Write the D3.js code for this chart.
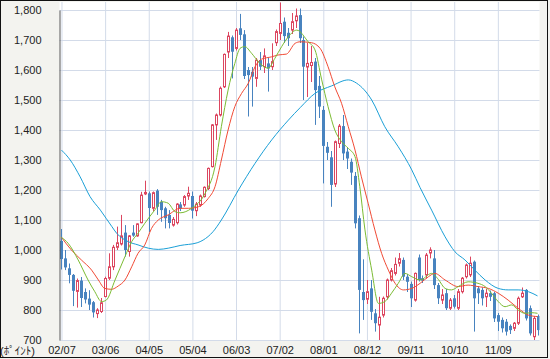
<!DOCTYPE html>
<html><head><meta charset="utf-8">
<script src="https://cdn.jsdelivr.net/npm/d3@7"></script>
<style>
body{margin:0;background:#fff}
svg{display:block}
text{font-family:Arial,"Liberation Sans","Noto Sans CJK JP",sans-serif}
</style>
</head><body>
<svg id="c" width="550" height="359"></svg>
<script>
// ---- data ----
const startYear = 2002, startMonth = 7;
const tickLabels = ["02/07","03/06","04/05","05/04","06/03","07/02","08/01","08/12","09/11","10/10","11/09"];
const yTicks = [700,800,900,1000,1100,1200,1300,1400,1500,1600,1700,1800];

const openV  = [1030,972,939,917,862,898,860,838,826,788,795,845,906,944,1009,1020,1058,995,1058,1047,1091,1187,1189,1139,1198,1160,1139,1117,1083,1091,1152,1150,1180,1180,1131,1150,1178,1205,1278,1417,1450,1544,1660,1709,1672,1739,1719,1600,1594,1572,1633,1611,1622,1611,1691,1722,1761,1724,1733,1764,1783,1700,1610,1615,1628,1547,1467,1344,1309,1220,1355,1413,1328,1294,1247,1106,860,836,872,789,750,783,844,900,922,956,967,911,887,833,975,906,917,990,972,883,833,856,806,839,806,861,911,917,961,872,867,844,856,856,783,767,761,747,739,756,844,867,806,711,780];
const highV  = [1070,1000,955,920,905,910,872,866,830,806,840,911,989,1017,1078,1117,1083,1050,1083,1089,1194,1231,1195,1195,1203,1167,1144,1133,1110,1156,1160,1183,1211,1195,1160,1185,1212,1275,1420,1455,1545,1655,1727,1715,1740,1787,1733,1610,1610,1640,1660,1672,1640,1689,1735,1825,1775,1740,1790,1805,1805,1712,1690,1680,1640,1580,1480,1360,1330,1365,1420,1450,1340,1305,1260,1115,969,900,900,803,844,845,905,940,975,990,975,920,895,925,985,915,990,1009,1000,890,870,870,840,850,870,910,955,978,965,880,875,870,865,860,790,775,770,752,760,845,875,870,815,780,785];
const lowV   = [935,933,889,813,808,810,822,800,775,773,790,842,900,933,1000,1015,978,978,1044,1044,1089,1183,1060,1130,1117,1094,1072,1072,1078,1085,1130,1144,1167,1105,1113,1144,1175,1200,1275,1367,1445,1540,1640,1572,1665,1700,1570,1445,1478,1544,1600,1590,1528,1600,1680,1700,1690,1680,1720,1740,1690,1500,1510,1560,1417,1440,1222,1300,1144,1210,1340,1300,1270,1217,1072,722,767,820,767,728,700,775,835,895,915,945,900,860,810,828,895,890,905,972,870,820,820,800,800,805,800,855,905,910,728,820,815,810,830,760,730,725,715,720,730,750,840,765,715,700,715];
const closeV = [970,942,917,864,898,840,835,818,792,800,824,905,944,1009,1024,1047,1000,1047,1048,1087,1183,1192,1140,1191,1144,1133,1106,1090,1102,1153,1138,1178,1189,1131,1153,1180,1209,1272,1417,1450,1539,1652,1713,1661,1733,1717,1580,1583,1578,1633,1611,1647,1605,1628,1728,1755,1713,1706,1761,1780,1706,1611,1622,1625,1533,1478,1347,1324,1217,1361,1413,1322,1305,1258,1089,867,833,861,794,756,776,839,900,931,952,971,911,894,839,922,900,898,983,1000,883,839,850,806,833,811,861,906,950,956,839,856,839,856,844,772,761,739,728,733,756,839,856,772,722,772,733];

// moving averages sampled at month positions (index, value)
const maShortIdx = [0,1.7,4.2,6.7,8.4,10.1,11.3,13.5,16,17.7,19.3,21,23.5,25.2,26.9,28.6,29.9,32.8,36.2,38.7,40.3,42,43.7,45,46.2,47.9,50,52.1,53.8,55.5,57.2,59.3,62.2,63.9,65.6,67.2,68.9,70.6,72.3,74,75.2,76.5,78.2,79.9,81.5,83.2,84.9,86.6,88.3,90.4,93.3,95,96.7,98.3,100,102.5,105,106.8,108.4,110.1,111.8,113.5,115.1,116.8,118.5,120];
const maShortVal = [1042,1022,967,900,861,828,833,900,978,1028,1056,1089,1133,1161,1156,1128,1124,1139,1189,1278,1411,1533,1622,1672,1678,1656,1622,1606,1639,1678,1711,1733,1694,1667,1567,1478,1400,1361,1339,1311,1211,1067,933,822,828,856,889,922,911,900,922,902,872,867,878,894,889,878,856,828,811,817,800,789,791,789];
const maMidIdx = [0,2.5,5,7.6,9.3,10.9,12.6,14.3,16,17.7,19.3,21,22.7,24.4,26.9,29.9,32,34.5,37,38.7,40.3,42,43.7,45.4,47.1,48.8,50.4,53,54.6,56.7,58.9,60.2,63,65.2,67.2,68.9,70.6,72.3,74,75.6,77.3,79,80.7,82.4,84.1,86.2,88.3,90.4,92.5,94.1,96.7,100,102.5,105,107.6,110.1,112.6,115.1,117.7,120];
const maMidVal = [1042,1000,967,933,900,872,869,880,900,944,989,1017,1072,1100,1117,1139,1139,1144,1172,1211,1300,1400,1478,1522,1556,1611,1636,1644,1650,1653,1689,1694,1691,1672,1611,1544,1489,1411,1333,1244,1156,1067,989,933,889,867,872,889,911,922,900,878,883,878,872,856,833,806,783,778];
const maLongIdx = [0,2.2,4.7,7.2,9.8,12.7,13.9,16.8,19.3,21.9,24.4,26.9,29.9,34.2,35.7,38.2,40.3,44.6,48.8,53,57.2,60.2,63.9,68.1,72.3,74.4,78.2,81.5,84.9,88.3,90.4,93.3,96.7,99.2,101.7,104.2,106.8,110.1,112.6,115.1,117.7,120];
const maLongVal = [1333,1300,1244,1178,1133,1078,1056,1028,1017,1006,1002,1006,1015,1024,1033,1061,1100,1200,1289,1367,1433,1475,1522,1547,1567,1556,1500,1411,1344,1267,1208,1133,1044,994,967,933,900,872,867,867,861,847];

// ---- chart ----
const W = 550, H = 359;
const L = 59.5, R = 539.5, T = 2, B = 340;
const svg = d3.select("#c");
const n = openV.length;
const cats = d3.range(n).map(i => {
  const m = startMonth - 1 + i, yy = startYear + Math.floor(m / 12), mm = m % 12 + 1;
  return String(yy % 100).padStart(2, "0") + "/" + String(mm).padStart(2, "0");
});

const x = d3.scaleBand().domain(cats).range([L, R]);
const xi = d3.scaleLinear().domain([-0.5, n - 0.5]).range([L, R]);
const y = d3.scaleLinear().domain([700, 1800]).range([340, 10]);

svg.append("rect").attr("width", W).attr("height", H).attr("fill", "#f3f3ef");
svg.append("rect").attr("x", L).attr("y", T).attr("width", R - L).attr("height", B - T).attr("fill", "#fff");

svg.append("defs").append("clipPath").attr("id", "clip")
  .append("rect").attr("x", L).attr("y", T).attr("width", R - L).attr("height", B - T);

// grid
const gy = svg.append("g").attr("transform", `translate(${L},0)`)
  .call(d3.axisLeft(y).tickValues(yTicks).tickSize(-(R - L)).tickFormat(""));
gy.select(".domain").remove();
gy.selectAll("line").attr("stroke", "#d3dbe9").attr("stroke-width", 1);

const tickIdx = tickLabels.map(t => cats.indexOf(t));
const gx = svg.append("g").attr("transform", `translate(0,${B})`)
  .call(d3.axisBottom(xi).tickValues(tickIdx).tickSize(-(B - T)).tickFormat(""));
gx.select(".domain").remove();
gx.selectAll("line").attr("stroke", "#d3dbe9").attr("stroke-width", 1);

// plot
const plot = svg.append("g").attr("clip-path", "url(#clip)");
const bw = x.bandwidth();
const cx = i => x(cats[i]) + bw / 2;
const UP = "#dc4660", DN = "#4883bf";

const cg = plot.append("g");
d3.range(n).forEach(i => {
  const up = closeV[i] >= openV[i];
  const col = up ? UP : DN;
  const c = Math.round(cx(i)) + 0.5;
  cg.append("line").attr("x1", c).attr("x2", c)
    .attr("y1", y(highV[i])).attr("y2", y(lowV[i]))
    .attr("stroke", col).attr("stroke-width", 1);
  const top = y(Math.max(openV[i], closeV[i])), bot = y(Math.min(openV[i], closeV[i]));
  if (up) {
    cg.append("rect").attr("x", c - 1).attr("y", top).attr("width", 2).attr("height", Math.max(1, bot - top))
      .attr("fill", "#fff").attr("stroke", col).attr("stroke-width", 1);
  } else {
    cg.append("rect").attr("x", c - 1.5).attr("y", top).attr("width", 3).attr("height", Math.max(1, bot - top))
      .attr("fill", col);
  }
});

const line = d3.line().x(d => xi(d[0])).y(d => y(d[1])).curve(d3.curveMonotoneX);
const mas = [
  [maLongIdx, maLongVal, "#1b9fd6"],
  [maMidIdx, maMidVal, "#f04a35"],
  [maShortIdx, maShortVal, "#7bbb33"]
];
mas.forEach(([ix, iv, col]) => {
  plot.append("path").datum(ix.map((v, k) => [v, iv[k]]))
    .attr("d", line).attr("fill", "none").attr("stroke", col).attr("stroke-width", 1);
});

// axes
const ay = svg.append("g").attr("transform", `translate(${L},0)`)
  .call(d3.axisLeft(y).tickValues(yTicks).tickSize(0).tickPadding(18).tickFormat(d3.format(",")));
ay.select(".domain").attr("stroke", "#555");
ay.selectAll("text").attr("font-size", 11).attr("fill", "#222");

const ax = svg.append("g").attr("transform", `translate(0,${B})`)
  .call(d3.axisBottom(xi).tickValues(tickIdx).tickSize(0).tickPadding(6).tickFormat((d, k) => tickLabels[k]));
ax.select(".domain").remove();
ax.selectAll("text").attr("font-size", 11).attr("fill", "#222");

svg.append("text").attr("x", 0).attr("y", 355).attr("font-size", 11).attr("fill", "#222").text("(ﾎﾟｲﾝﾄ)");

// frame
svg.append("rect").attr("x", 0.5).attr("y", 0.5).attr("width", 547).attr("height", 357)
  .attr("fill", "none").attr("stroke", "#111").attr("stroke-width", 1);
</script>
</body></html>
